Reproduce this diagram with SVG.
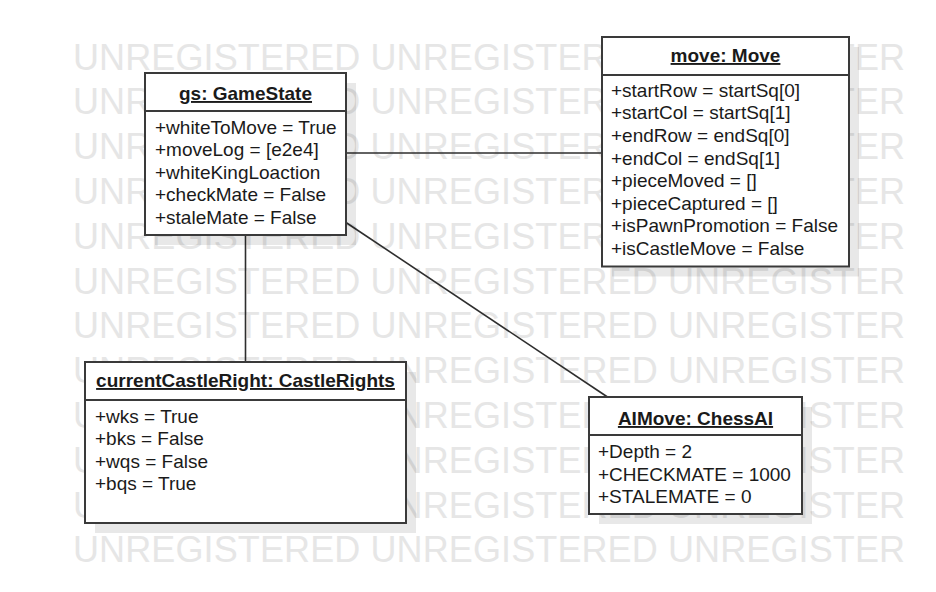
<svg xmlns="http://www.w3.org/2000/svg" width="936" height="592" viewBox="0 0 936 592">
<style>
.wm{font-family:"Liberation Sans",Arial,sans-serif;font-size:36px;fill:#e6e6e6}
.box{fill:#fff;stroke:#3a3a3a;stroke-width:2}
.shadow{fill:#000;fill-opacity:0.09}
.sep{stroke:#3a3a3a;stroke-width:2}
.hd{font-family:"Liberation Sans",Arial,sans-serif;font-size:19px;font-weight:bold;fill:#1a1a1a;text-anchor:middle;text-decoration:underline}
.at{font-family:"Liberation Sans",Arial,sans-serif;font-size:19px;fill:#1a1a1a}
.conn{stroke:#2e2e2e;stroke-width:1.6;fill:none}
</style>
<rect width="936" height="592" fill="#fff"/>
<g id="watermark">
<text class="wm" x="73" y="69.5" textLength="832" lengthAdjust="spacing">UNREGISTERED UNREGISTERED UNREGISTER</text>
<text class="wm" x="73" y="114.3" textLength="832" lengthAdjust="spacing">UNREGISTERED UNREGISTERED UNREGISTER</text>
<text class="wm" x="73" y="159.1" textLength="832" lengthAdjust="spacing">UNREGISTERED UNREGISTERED UNREGISTER</text>
<text class="wm" x="73" y="203.9" textLength="832" lengthAdjust="spacing">UNREGISTERED UNREGISTERED UNREGISTER</text>
<text class="wm" x="73" y="248.7" textLength="832" lengthAdjust="spacing">UNREGISTERED UNREGISTERED UNREGISTER</text>
<text class="wm" x="73" y="293.5" textLength="832" lengthAdjust="spacing">UNREGISTERED UNREGISTERED UNREGISTER</text>
<text class="wm" x="73" y="338.3" textLength="832" lengthAdjust="spacing">UNREGISTERED UNREGISTERED UNREGISTER</text>
<text class="wm" x="73" y="383.1" textLength="832" lengthAdjust="spacing">UNREGISTERED UNREGISTERED UNREGISTER</text>
<text class="wm" x="73" y="427.9" textLength="832" lengthAdjust="spacing">UNREGISTERED UNREGISTERED UNREGISTER</text>
<text class="wm" x="73" y="472.7" textLength="832" lengthAdjust="spacing">UNREGISTERED UNREGISTERED UNREGISTER</text>
<text class="wm" x="73" y="517.5" textLength="832" lengthAdjust="spacing">UNREGISTERED UNREGISTERED UNREGISTER</text>
<text class="wm" x="73" y="562.3" textLength="832" lengthAdjust="spacing">UNREGISTERED UNREGISTERED UNREGISTER</text>
</g>
<g id="connectors">
<line class="conn" x1="346" y1="153" x2="602" y2="153"/>
<line class="conn" x1="245.5" y1="235" x2="245.5" y2="362"/>
<line class="conn" x1="346" y1="222.5" x2="607.5" y2="397"/>
</g>
<g id="gs">
<rect class="shadow" x="155" y="83" width="201" height="162"/>
<rect class="box" x="145" y="73" width="201" height="162"/>
<line class="sep" x1="145" y1="111" x2="346" y2="111"/>
<text class="hd" x="245.5" y="100">gs: GameState</text>
<text class="at" x="155" y="133.5">+whiteToMove = True</text>
<text class="at" x="155" y="156">+moveLog = [e2e4]</text>
<text class="at" x="155" y="178.5">+whiteKingLoaction</text>
<text class="at" x="155" y="201">+checkMate = False</text>
<text class="at" x="155" y="223.5">+staleMate = False</text>
</g>
<g id="move">
<rect class="shadow" x="612" y="47" width="247" height="229.5"/>
<rect class="box" x="602" y="37" width="247" height="229.5"/>
<line class="sep" x1="602" y1="75" x2="849" y2="75"/>
<text class="hd" x="725.5" y="62">move: Move</text>
<text class="at" x="611" y="96.7">+startRow = startSq[0]</text>
<text class="at" x="611" y="119.3">+startCol = startSq[1]</text>
<text class="at" x="611" y="141.9">+endRow = endSq[0]</text>
<text class="at" x="611" y="164.5">+endCol = endSq[1]</text>
<text class="at" x="611" y="187.1">+pieceMoved = []</text>
<text class="at" x="611" y="209.7">+pieceCaptured = []</text>
<text class="at" x="611" y="232.3">+isPawnPromotion = False</text>
<text class="at" x="611" y="254.9">+isCastleMove = False</text>
</g>
<g id="castle">
<rect class="shadow" x="95" y="372" width="321" height="161"/>
<rect class="box" x="85" y="362" width="321" height="161"/>
<line class="sep" x1="85" y1="400" x2="406" y2="400"/>
<text class="hd" x="245.5" y="387">currentCastleRight: CastleRights</text>
<text class="at" x="95" y="422.7">+wks = True</text>
<text class="at" x="95" y="445.1">+bks = False</text>
<text class="at" x="95" y="467.5">+wqs = False</text>
<text class="at" x="95" y="489.9">+bqs = True</text>
</g>
<g id="ai">
<rect class="shadow" x="599" y="407" width="213" height="117"/>
<rect class="box" x="589" y="397" width="213" height="117"/>
<line class="sep" x1="589" y1="435" x2="802" y2="435"/>
<text class="hd" x="695.5" y="425">AIMove: ChessAI</text>
<text class="at" x="598" y="458.3">+Depth = 2</text>
<text class="at" x="598" y="480.7">+CHECKMATE = 1000</text>
<text class="at" x="598" y="503.1">+STALEMATE = 0</text>
</g>
</svg>
